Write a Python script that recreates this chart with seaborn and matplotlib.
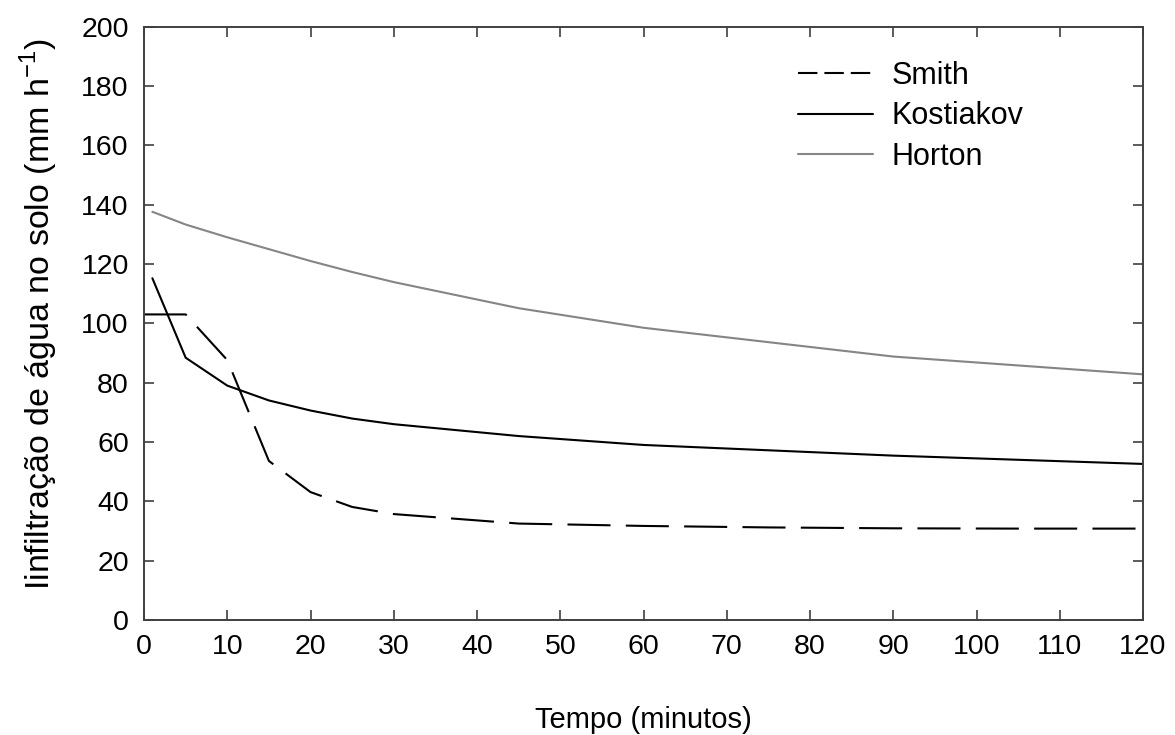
import matplotlib
matplotlib.use("Agg")
import matplotlib.pyplot as plt
from matplotlib.lines import Line2D
import seaborn as sns
import pandas as pd

# Infiltration rate (mm/h) over time (minutes) for three models
tempo_smith = [0, 5, 10, 15, 20, 25, 30, 45, 60, 75, 80, 90, 105, 120]
smith = [103.0, 103.0, 87.6, 53.6, 43.1, 38.1, 35.7, 32.5, 31.7, 31.2, 31.1, 30.9, 30.8, 30.8]

tempo = [1, 5, 10, 15, 20, 25, 30, 45, 60, 90, 120]
kostiakov = [115.2, 88.4, 79.0, 74.0, 70.6, 67.9, 66.0, 62.0, 59.0, 55.4, 52.6]
horton = [137.6, 133.3, 129.0, 125.0, 121.0, 117.3, 113.9, 105.1, 98.5, 88.8, 82.8]

x_ticks = list(range(0, 121, 10))
y_ticks = list(range(0, 201, 20))

sns.set_theme(style="white")
plt.rcParams["font.family"] = ["Liberation Sans", "DejaVu Sans"]
plt.rcParams["text.color"] = "black"
plt.rcParams["lines.scale_dashes"] = False
plt.rcParams["mathtext.fontset"] = "custom"
plt.rcParams["mathtext.rm"] = "Liberation Sans"

fig = plt.figure(figsize=(11.75, 7.35), dpi=100)
ax = fig.add_axes([0.1226, 0.1565, 0.8502, 0.8072])

df_smith = pd.DataFrame({"t": tempo_smith, "f": smith})
df_rest = pd.DataFrame({"t": tempo, "k": kostiakov, "h": horton})

sns.lineplot(data=df_smith, x="t", y="f", ax=ax, color="black", lw=1.5)
ax.lines[-1].set_dashes((31, 11))
sns.lineplot(data=df_rest, x="t", y="k", ax=ax, color="black", lw=1.5)
sns.lineplot(data=df_rest, x="t", y="h", ax=ax, color="#858585", lw=1.5)

ax.set_xlim(0, 120)
ax.set_ylim(0, 200)
ax.set_xticks(x_ticks)
ax.set_yticks(y_ticks)

spine_col = "#404040"
for s in ax.spines.values():
    s.set_visible(True)
    s.set_color(spine_col)
    s.set_linewidth(1.4)

ax.tick_params(axis="both", which="major", direction="in", length=7,
               width=1.2, color=spine_col, labelsize=20.5, labelcolor="black",
               top=True, right=True, bottom=True, left=True)
ax.tick_params(axis="x", pad=10)
ax.tick_params(axis="y", pad=11)

ax.set_xlabel("Tempo (minutos)", fontsize=21, labelpad=33, color="black")
ax.set_ylabel("Iinfiltração de água no solo (mm h$^{\\mathrm{-1}}$)", fontsize=24.5,
              labelpad=15, color="black")
ax.yaxis.label.set_y(0.515)

handles = [
    Line2D([0], [0], color="black", lw=1.5, dashes=(14, 5)),
    Line2D([0], [0], color="black", lw=1.5),
    Line2D([0], [0], color="#858585", lw=1.5),
]
ax.legend(handles, ["Smith", "Kostiakov", "Horton"], loc="upper left",
          bbox_to_anchor=(0.679, 0.917), bbox_transform=fig.transFigure,
          frameon=False, fontsize=22, borderpad=0, borderaxespad=0,
          handlelength=2.45, handletextpad=0.62, labelspacing=0.34,
          labelcolor="black")

fig.savefig("out.png", dpi=100, facecolor="white")
